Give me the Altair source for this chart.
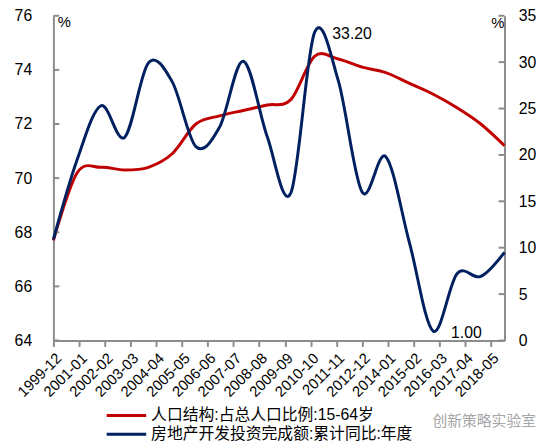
import altair as alt
import pandas as pd

years = list(range(1999, 2019))
dates = [f"{y}-12-01" for y in years]
pop_share = [67.7, 70.2, 70.4, 70.3, 70.4, 70.9, 72.0, 72.3, 72.5, 72.7,
             72.9, 74.5, 74.4, 74.1, 73.9, 73.5, 73.1, 72.6, 72.0, 71.2]
invest_yoy = [10.9, 19.5, 25.3, 21.9, 29.9, 27.9, 20.9, 23.0, 30.1, 22.0,
              15.9, 33.2, 28.0, 16.0, 19.8, 10.5, 1.0, 7.2, 6.9, 9.5]
series_names = ["人口结构:占总人口比例:15-64岁", "房地产开发投资完成额:累计同比:年度"]
series_colors = ["#C00000", "#002060"]
tick_labels = ["1999-12", "2001-01", "2002-02", "2003-03", "2004-04", "2005-05",
               "2006-06", "2007-07", "2008-08", "2009-09", "2010-10", "2011-11",
               "2012-12", "2014-01", "2015-02", "2016-03", "2017-04", "2018-05"]
left_ticks = [64, 66, 68, 70, 72, 74, 76]
right_ticks = [0, 5, 10, 15, 20, 25, 30, 35]
annot_dates = ["2010-12-01", "2015-12-01"]
annot_values = [33.2, 1.0]
annot_texts = ["33.20", "1.00"]
watermark = "创新策略实验室"

FONT = "Liberation Sans, Arial, Noto Sans CJK SC"
AXIS_GREY = "#8c8c8c"

red_df = pd.DataFrame({"date": dates, "v": pop_share, "series": series_names[0]})
blue_df = pd.DataFrame({"date": dates, "v": invest_yoy, "series": series_names[1]})
annot_df = pd.DataFrame({"date": annot_dates, "v": annot_values, "t": annot_texts})
lt_df = pd.DataFrame({"v": left_ticks})
rt_df = pd.DataFrame({"v": right_ticks})
wm_df = pd.DataFrame({"t": [watermark]})

tick_vals = [alt.DateTime(year=int(s[:4]), month=int(s[5:]), date=1, utc=True) for s in tick_labels]

x_enc = alt.X(
    "date:T",
    scale=alt.Scale(type="utc", domain=[alt.DateTime(year=1999, month=12, date=1, utc=True),
                                        alt.DateTime(year=2018, month=12, date=1, utc=True)]),
    axis=alt.Axis(values=tick_vals, format="%Y-%m", labelAngle=-45, labelFontSize=15,
                  labelFont=FONT, labelColor="black", title=None, grid=False,
                  domainColor=AXIS_GREY, domainWidth=2, tickColor=AXIS_GREY, tickWidth=2,
                  tickSize=6, labelPadding=4, labelOverlap=False),
)

left_axis = alt.Axis(values=left_ticks, labelFontSize=16, labelFont=FONT, labelColor="black",
                     labelPadding=22, ticks=False, grid=False, domainColor=AXIS_GREY,
                     domainWidth=2, title="%", titleAngle=0, titleAlign="left",
                     titleBaseline="middle", titleX=4, titleY=6, titleFontSize=15,
                     titleFont=FONT, titleFontWeight="normal", orient="left")
right_axis = alt.Axis(values=right_ticks, labelFontSize=16, labelFont=FONT, labelColor="black",
                      labelPadding=14, ticks=False, grid=False, domainColor=AXIS_GREY,
                      domainWidth=2, title="%", titleAngle=0, titleAlign="left",
                      titleBaseline="middle", titleX=-14, titleY=7, titleFontSize=15,
                      titleFont=FONT, titleFontWeight="normal", orient="right")

left_scale = alt.Scale(domain=[64, 76], nice=False, zero=False)
right_scale = alt.Scale(domain=[0, 35], nice=False, zero=False)

color_enc = alt.Color(
    "series:N",
    scale=alt.Scale(domain=series_names, range=series_colors),
    legend=alt.Legend(orient="none", legendX=51, legendY=397, title=None,
                      symbolType="M-4,0L4,0", symbolSize=100, symbolOffset=15,
                      symbolStrokeWidth=3, labelFontSize=16, labelFont=FONT,
                      labelColor="black", rowPadding=3, labelOffset=17, direction="vertical",
                      labelLimit=400),
)

red_line = alt.Chart(red_df).mark_line(interpolate="cardinal", strokeWidth=3).encode(
    x=x_enc, y=alt.Y("v:Q", scale=left_scale, axis=left_axis), color=color_enc)
left_tick_marks = alt.Chart(lt_df).mark_rule(color=AXIS_GREY, strokeWidth=2).encode(
    y=alt.Y("v:Q", scale=left_scale, axis=left_axis), x=alt.value(0), x2=alt.value(6))
red_group = alt.layer(red_line, left_tick_marks)

blue_line = alt.Chart(blue_df).mark_line(interpolate="cardinal", strokeWidth=3).encode(
    x=x_enc, y=alt.Y("v:Q", scale=right_scale, axis=right_axis), color=color_enc)
right_tick_marks = alt.Chart(rt_df).mark_rule(color=AXIS_GREY, strokeWidth=2).encode(
    y=alt.Y("v:Q", scale=right_scale, axis=right_axis), x=alt.value(451), x2=alt.value(457))
annots = alt.Chart(annot_df).mark_text(align="left", baseline="middle", dx=18, dy=2,
                                       fontSize=16, font=FONT, color="black").encode(
    x=x_enc, y=alt.Y("v:Q", scale=right_scale, axis=right_axis), text="t:N")
blue_group = alt.layer(blue_line, right_tick_marks, annots)

wm = alt.Chart(wm_df).mark_text(align="left", baseline="middle", fontSize=15,
                                font="Noto Sans CJK SC", color="#a6a6a6").encode(
    text="t:N", x=alt.value(384), y=alt.value(411))

chart = alt.layer(red_group, blue_group, wm).resolve_scale(y="independent").properties(
    width=457, height=329,
    padding={"left": 46, "top": 5, "right": 38, "bottom": 101},
    autosize=alt.AutoSizeParams(type="none"),
).configure_view(stroke=None)

chart.save("out.html", embed_options={"renderer": "svg", "actions": False})
